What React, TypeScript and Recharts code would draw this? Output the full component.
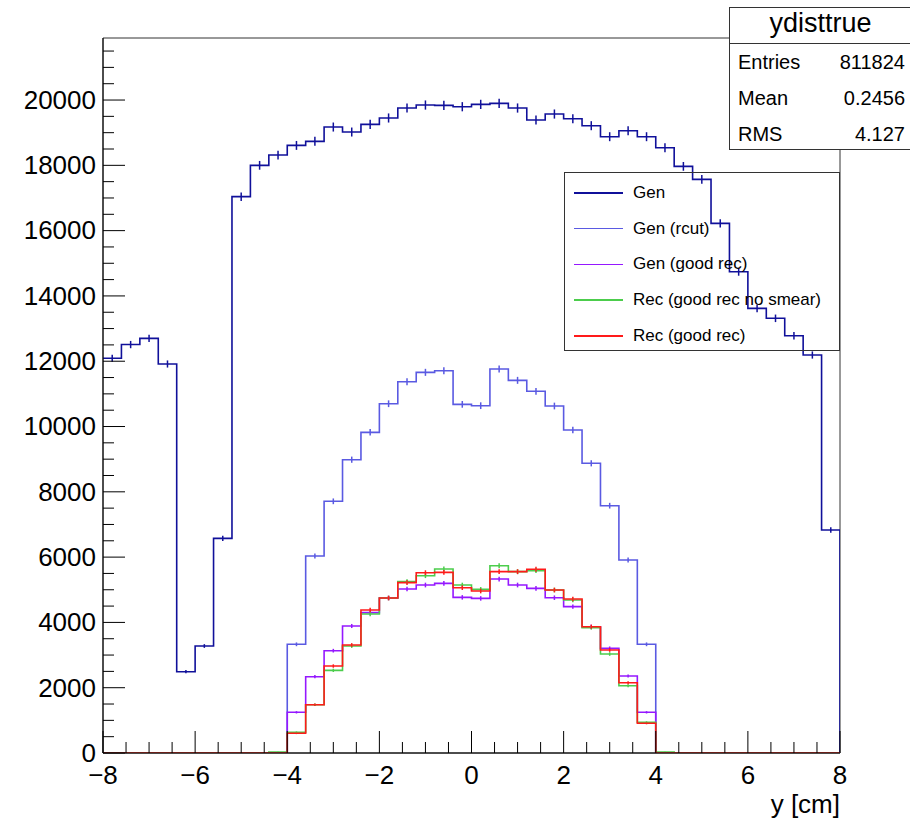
import {
  ComposedChart,
  Line,
  Scatter,
  ErrorBar,
  XAxis,
  YAxis,
  ReferenceArea,
  Legend,
} from 'recharts';

const FONT = '"Liberation Sans", Arial, Helvetica, sans-serif';

// bin edges of the histogram, 40 bins of 0.4 cm
const binEdges = [
  -8, -7.6, -7.2, -6.8, -6.4, -6, -5.6, -5.2, -4.8, -4.4, -4, -3.6, -3.2, -2.8,
  -2.4, -2, -1.6, -1.2, -0.8, -0.4, 0, 0.4, 0.8, 1.2, 1.6, 2, 2.4, 2.8, 3.2, 3.6,
  4, 4.4, 4.8, 5.2, 5.6, 6, 6.4, 6.8, 7.2, 7.6, 8,
];

const genCounts = [
  12090, 12510, 12700, 11915, 2490, 3277, 6575, 17040, 18000, 18315,
  18610, 18735, 19173, 19020, 19255, 19450, 19755, 19847, 19837, 19795,
  19867, 19898, 19755, 19387, 19571, 19428, 19214, 18877, 19061, 18877,
  18539, 17968, 17570, 16222, 14740, 13620, 13314, 12781, 12190, 6830,
];

const genRcutCounts = [
  0, 0, 0, 0, 0, 0, 0, 0, 0, 0,
  3329, 6034, 7709, 8984, 9822, 10698, 11372, 11659, 11710, 10679,
  10638, 11761, 11414, 11078, 10628, 9893, 8873, 7575, 5911, 3329,
  0, 0, 0, 0, 0, 0, 0, 0, 0, 0,
];

const genGoodRecCounts = [
  0, 0, 0, 0, 0, 0, 0, 0, 0, 0,
  1246, 2337, 3134, 3890, 4300, 4747, 5023, 5145, 5196, 4767,
  4735, 5329, 5145, 5043, 4757, 4482, 3869, 3206, 2358, 1246,
  0, 0, 0, 0, 0, 0, 0, 0, 0, 0,
];

const recNoSmearCounts = [
  0, 0, 0, 0, 0, 0, 0, 0, 0, 30,
  634, 1480, 2532, 3277, 4257, 4747, 5248, 5431, 5635, 5145,
  5012, 5737, 5554, 5585, 4992, 4686, 3839, 3032, 2062, 940,
  30, 0, 0, 0, 0, 0, 0, 0, 0, 0,
];

const recGoodRecCounts = [
  0, 0, 0, 0, 0, 0, 0, 0, 0, 0,
  603, 1480, 2664, 3308, 4380, 4747, 5217, 5522, 5533, 5063,
  4961, 5554, 5554, 5626, 4992, 4716, 3869, 3155, 2154, 909,
  0, 0, 0, 0, 0, 0, 0, 0, 0, 0,
];

const xTicks = [
  -8, -7.5, -7, -6.5, -6, -5.5, -5, -4.5, -4, -3.5, -3, -2.5, -2, -1.5, -1, -0.5,
  0, 0.5, 1, 1.5, 2, 2.5, 3, 3.5, 4, 4.5, 5, 5.5, 6, 6.5, 7, 7.5, 8,
];
const yTicks = [
  0, 500, 1000, 1500, 2000, 2500, 3000, 3500, 4000, 4500, 5000, 5500, 6000,
  6500, 7000, 7500, 8000, 8500, 9000, 9500, 10000, 10500, 11000, 11500, 12000,
  12500, 13000, 13500, 14000, 14500, 15000, 15500, 16000, 16500, 17000, 17500,
  18000, 18500, 19000, 19500, 20000, 20500, 21000, 21500,
];

const series = [
  { name: 'Gen', values: genCounts, color: '#10109a' },
  { name: 'Gen (rcut)', values: genRcutCounts, color: '#5a5ae2' },
  { name: 'Gen (good rec)', values: genGoodRecCounts, color: '#9518ff' },
  { name: 'Rec (good rec no smear)', values: recNoSmearCounts, color: '#4ccd4c' },
  { name: 'Rec (good rec)', values: recGoodRecCounts, color: '#ff1a1a' },
];

const stats = [
  { label: 'Entries', value: '811824' },
  { label: 'Mean', value: '0.2456' },
  { label: 'RMS', value: '4.127' },
];

// step outline: one point per lower bin edge, then close at the upper edge
function stepData(values: number[]) {
  const pts = values.map((v, i) => ({ x: binEdges[i], y: v }));
  const last = values[values.length - 1];
  pts.push({ x: binEdges[binEdges.length - 1], y: last });
  pts.push({ x: binEdges[binEdges.length - 1], y: 0 });
  return pts;
}

// statistical error bars at bin centres
function errData(values: number[]) {
  return values
    .map((v, i) => ({ x: (binEdges[i] + binEdges[i + 1]) / 2, y: v, err: Math.sqrt(v) }))
    .filter((p) => p.y > 0);
}

function fmtX(v: number) {
  return v < 0 ? `\u2212${Math.abs(v)}` : `${v}`;
}

function XTick(props: any) {
  const { x, y, payload } = props;
  const v = payload.value;
  const major = Math.abs(v % 2) < 1e-9;
  return (
    <g>
      <line x1={x} x2={x} y1={y} y2={y - (major ? 22 : 11)} stroke="#000" strokeWidth={1} />
      {major && (
        <text x={x} y={y + 31} textAnchor="middle" fontSize={26} fontFamily={FONT} fill="#000">
          {fmtX(v)}
        </text>
      )}
    </g>
  );
}

function YTick(props: any) {
  const { x, y, payload } = props;
  const v = payload.value;
  const major = v % 2000 === 0;
  return (
    <g>
      <line x1={x} x2={x + (major ? 22 : 11)} y1={y} y2={y} stroke="#000" strokeWidth={1} />
      {major && (
        <text x={x - 7} y={y} dy="0.34em" textAnchor="end" fontSize={26} fontFamily={FONT} fill="#000">
          {v}
        </text>
      )}
    </g>
  );
}

function LegendBox() {
  return (
    <div
      style={{
        width: 276,
        height: 179,
        boxSizing: 'border-box',
        border: '1px solid #333',
        fontFamily: FONT,
        fontSize: 17,
        position: 'relative',
      }}
    >
      {series.map((s, i) => (
        <div
          key={s.name}
          style={{ position: 'absolute', left: 9, top: 20 + i * 35.7 - 10, height: 20, display: 'flex', alignItems: 'center' }}
        >
          <div style={{ width: 49, height: 1.5, background: s.color, marginRight: 10 }} />
          <span style={{ whiteSpace: 'nowrap' }}>{s.name}</span>
        </div>
      ))}
    </div>
  );
}

function StatsBox() {
  return (
    <div
      style={{
        position: 'absolute',
        left: 729,
        top: 7,
        width: 200,
        height: 143,
        boxSizing: 'border-box',
        border: '1px solid #333',
        background: '#fff',
        fontFamily: FONT,
      }}
    >
      <div
        style={{
          height: 35,
          borderBottom: '1px solid #333',
          width: 181,
          textAlign: 'center',
          fontSize: 27,
          lineHeight: '30px',
        }}
      >
        ydisttrue
      </div>
      {stats.map((r) => (
        <div
          key={r.label}
          style={{ display: 'flex', width: 167, marginLeft: 8, height: 36, alignItems: 'center', fontSize: 20 }}
        >
          <span style={{ flex: 1 }}>{r.label}</span>
          <span>{r.value}</span>
        </div>
      ))}
    </div>
  );
}

export default function App() {
  return (
    <div style={{ position: 'absolute', left: 0, top: 0, width: 910, height: 821, background: '#fff' }}>
      <ComposedChart
        width={910}
        height={821}
        margin={{ top: 38, right: 70, left: 0, bottom: 0 }}
      >
        <XAxis
          dataKey="x"
          type="number"
          domain={[-8, 8]}
          ticks={xTicks}
          interval={0}
          tickSize={0}
          tickMargin={0}
          height={68}
          axisLine={{ stroke: '#000' }}
          tickLine={false}
          tick={<XTick />}
          allowDataOverflow
          label={({ viewBox }: any) => (
            <text
              x={viewBox.x + viewBox.width}
              y={viewBox.y + 60}
              textAnchor="end"
              fontSize={26}
              fontFamily={FONT}
              fill="#000"
            >
              y [cm]
            </text>
          )}
        />
        <YAxis
          type="number"
          domain={[0, 21900]}
          ticks={yTicks}
          interval={0}
          tickSize={0}
          tickMargin={0}
          width={103}
          axisLine={{ stroke: '#000' }}
          tickLine={false}
          tick={<YTick />}
          allowDataOverflow
        />
        <ReferenceArea x1={-8} x2={8} y1={0} y2={21900} fill="none" stroke="#333" strokeWidth={1} ifOverflow="visible" />
        {series.map((s) => (
          <Line
            key={s.name}
            data={stepData(s.values)}
            dataKey="y"
            type="stepAfter"
            stroke={s.color}
            strokeWidth={1.6}
            dot={false}
            activeDot={false}
            isAnimationActive={false}
            legendType="line"
            name={s.name}
          />
        ))}
        {series.map((s) => (
          <Scatter
            key={`err-${s.name}`}
            data={errData(s.values)}
            dataKey="y"
            shape={() => <g />}
            isAnimationActive={false}
            legendType="none"
          >
            <ErrorBar dataKey="err" direction="y" width={0} stroke={s.color} strokeWidth={1.5} isAnimationActive={false} />
          </Scatter>
        ))}
        <Legend
          layout="vertical"
          align="center"
          verticalAlign="middle"
          content={() => <LegendBox />}
          wrapperStyle={{ position: 'absolute', left: 564, top: 172, width: 276, height: 179 }}
        />
      </ComposedChart>
      <StatsBox />
    </div>
  );
}
